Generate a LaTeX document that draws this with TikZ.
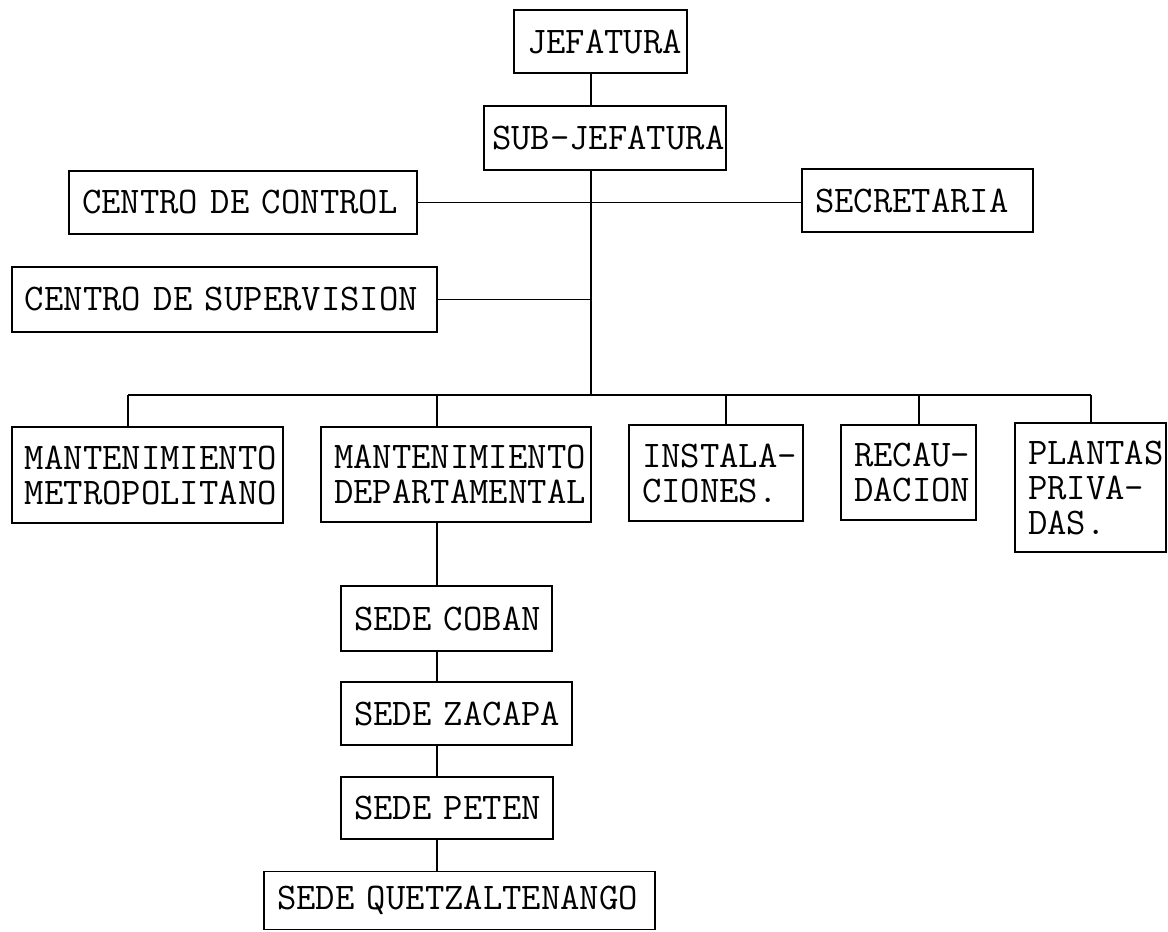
\documentclass[tikz,border=0pt]{standalone}
\usepackage{fontspec}
\hyphenpenalty=10000
\exhyphenpenalty=10000
\begin{document}
\begin{tikzpicture}[x=0.5pt,y=-0.5pt,
  box/.style={draw, line width=0.8pt, align=left, inner xsep=6.5pt, inner ysep=0pt,
    font=\fontsize{18.8}{17.5}\selectfont\ttfamily},
  conn/.style={line width=0.8pt}]
\useasboundingbox[fill=white] (0,0) rectangle (1168,932);
% boxes
\node[box, text width=73.5pt, minimum height=31.5pt] (jef) at (600.5,41.5) {JEFATURA};
\node[box, inner xsep=4pt, text width=113pt, minimum height=32pt] (sub) at (605,138) {SUB-JEFATURA};
\node[box, text width=161pt, minimum height=31.5pt] (ctrl) at (243,202.5) {CENTRO~DE~CONTROL};
\node[box, text width=102.5pt, minimum height=31.5pt] (secr) at (917.5,200.5) {SECRETARIA};
\node[box, text width=199.5pt, minimum height=32.5pt] (sup) at (224.5,299.5) {CENTRO~DE~SUPERVISION};
\node[box, text width=122.5pt, minimum height=48pt] (metro) at (147.5,475) {MANTENIMIENTO\\METROPOLITANO};
\node[box, text width=122pt, minimum height=47.5pt] (dept) at (456,474.5) {MANTENIMIENTO\\DEPARTAMENTAL};
\node[box, text width=74pt, minimum height=48pt] (inst) at (716,473) {INSTALA-\\CIONES.};
\node[box, text width=54.5pt, minimum height=47.5pt] (recau) at (908.5,472.5) {RECAU-\\DACION};
\node[box, text width=62.5pt, minimum height=64.5pt] (plant) at (1090.5,487.5) {PLANTAS\\PRIVA-\\DAS.};
\node[box, text width=92.5pt, minimum height=32.5pt] (coban) at (446.5,618.5) {SEDE~COBAN};
\node[box, text width=102.5pt, minimum height=31.5pt] (zacapa) at (456.5,713.5) {SEDE~ZACAPA};
\node[box, text width=93pt, minimum height=31pt] (peten) at (447,808) {SEDE~PETEN};
\node[box, text width=182.5pt, minimum height=29pt] (quetz) at (459.5,900.5) {SEDE~QUETZALTENANGO};
% connector coordinates
\coordinate (T) at (591,395);
\coordinate (cm) at (128,395);
\coordinate (cd) at (437,395);
\coordinate (ci) at (726,395);
\coordinate (cr) at (919,395);
\coordinate (cp) at (1091,395);
% connectors
\draw[conn] (jef.south -| T) -- (sub.north -| T);
\draw[conn] (sub.south -| T) -- (T);
\draw[conn] (ctrl.east) -- (ctrl.east -| secr.west);
\draw[conn] (sup.east) -- (sup.east -| T);
\draw[conn] (cm) -- (cp);
\draw[conn] (cm) -- (metro.north -| cm);
\draw[conn] (cd) -- (dept.north -| cd);
\draw[conn] (ci) -- (inst.north -| ci);
\draw[conn] (cr) -- (recau.north -| cr);
\draw[conn] (cp) -- (plant.north -| cp);
\draw[conn] (dept.south -| cd) -- (coban.north -| cd);
\draw[conn] (coban.south -| cd) -- (zacapa.north -| cd);
\draw[conn] (zacapa.south -| cd) -- (peten.north -| cd);
\draw[conn] (peten.south -| cd) -- (quetz.north -| cd);
\end{tikzpicture}
\end{document}
